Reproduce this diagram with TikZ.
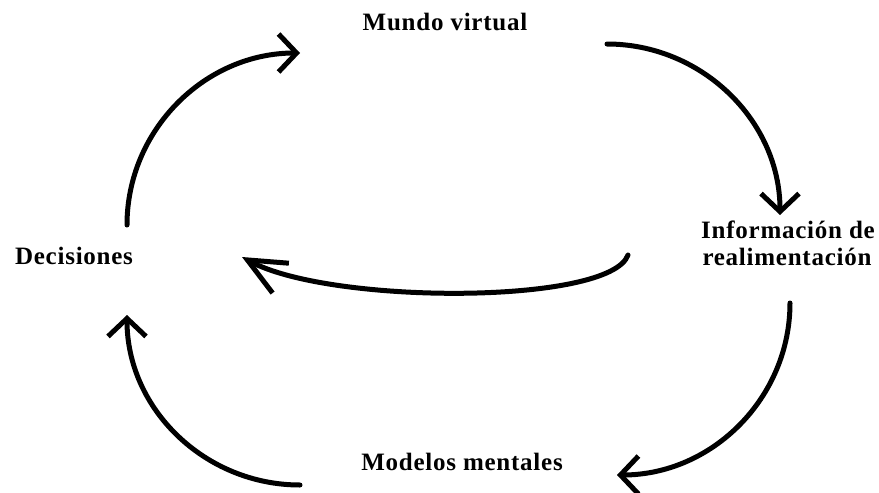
\documentclass[tikz,border=0pt]{standalone}
\usepackage{fontspec}
\setmainfont{Liberation Serif}[LetterSpace=3]
\usetikzlibrary{arrows.meta}
\begin{document}
\begin{tikzpicture}[x=1pt,y=-1pt,
  lbl/.style={font=\fontsize{25}{30}\selectfont\bfseries, inner sep=0pt, anchor=base, align=center},
  loop/.style={line width=5pt, line cap=round, -{Straight Barb[length=18pt,width=38pt,line width=5pt]}},
  bigtip/.style={line width=5pt, line cap=round, -{Straight Barb[length=38pt,width=34pt,line width=5pt]}}]
\useasboundingbox (0,0) rectangle (879,493);
% labels
\node[lbl] (mv) at (445,30) {Mundo virtual};
\node[lbl] (dec) at (74,264) {Decisiones};
\node[lbl] (inf) at (788,238) {Información de};
\node[lbl] (real) at (787,265) {realimentación};
\node[lbl] (mm) at (462,470) {Modelos mentales};
% connector end points
\coordinate (a1) at (127,225);
\coordinate (a2) at (300,53);
\coordinate (b1) at (607,44);
\coordinate (b2) at (780,215);
\coordinate (c1) at (628,255);
\coordinate (c2) at (242,257);
\coordinate (d1) at (790,303);
\coordinate (d2) at (617,475);
\coordinate (e1) at (300,485);
\coordinate (e2) at (127,315);
% connectors
\draw[loop] (a1) .. controls (127,130) and (205,53) .. (a2);
\draw[loop] (b1) .. controls (702,44) and (780,121) .. (b2);
\draw[bigtip] (c1) .. controls (610,305) and (330,305) .. (c2);
\draw[loop] (d1) .. controls (790,398) and (712,475) .. (d2);
\draw[loop] (e1) .. controls (205,485) and (127,409) .. (e2);
\end{tikzpicture}
\end{document}
